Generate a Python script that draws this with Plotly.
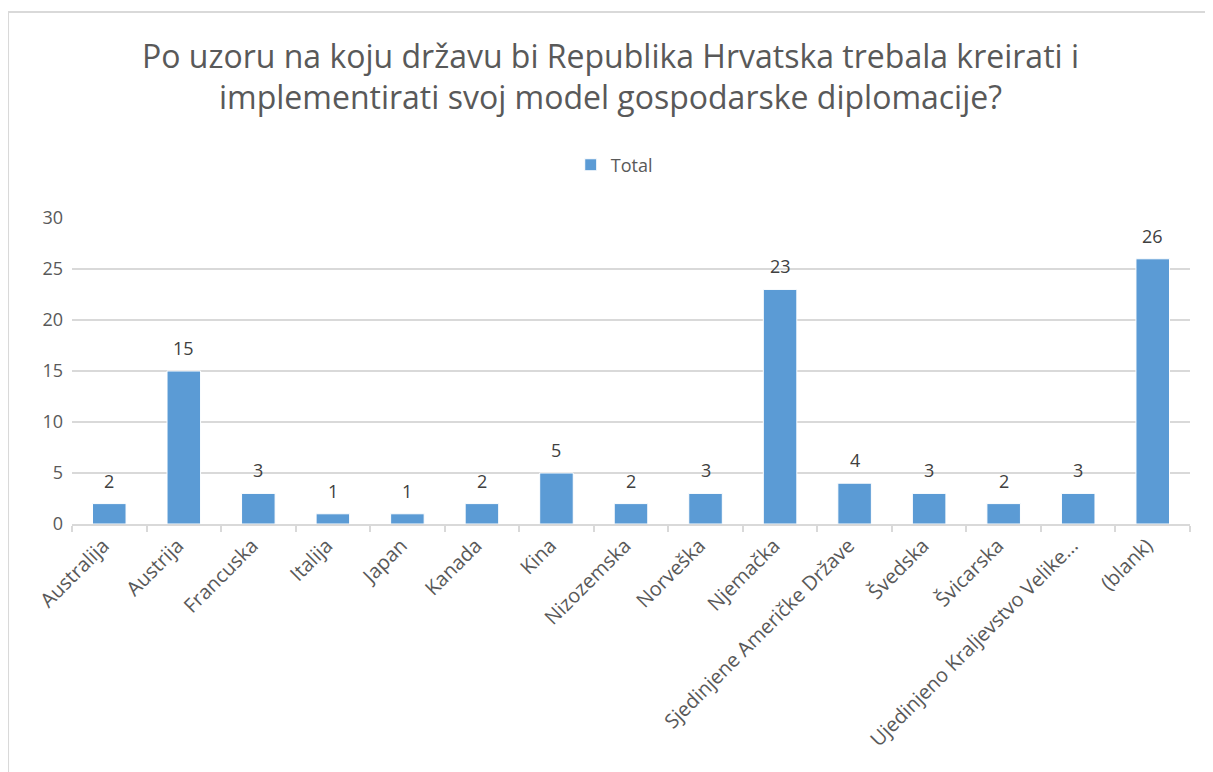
import plotly.graph_objects as go

categories = ["Australija", "Austrija", "Francuska", "Italija", "Japan", "Kanada", "Kina",
              "Nizozemska", "Norveška", "Njemačka", "Sjedinjene Američke Države", "Švedska",
              "Švicarska", "Ujedinjeno Kraljevstvo Velike...", "(blank)"]
totals = [2, 15, 3, 1, 1, 2, 5, 2, 3, 23, 4, 3, 2, 3, 26]
y_ticks = [0, 5, 10, 15, 20, 25, 30]

FONT = "Segoe UI, Open Sans, sans-serif"
GREY = "#595959"
LINE = "#d9d9d9"

fig = go.Figure()
fig.add_bar(x=categories, y=totals, name="Total", marker=dict(color="#5b9bd5", line=dict(color="white", width=1)))

# data labels above the bars
for c, v in zip(categories, totals):
    fig.add_annotation(x=c, y=v, text=str(v), showarrow=False, yanchor="bottom", yshift=9,
                       font=dict(size=18, color="#404040", family=FONT))

# page body has an 8px margin, so the figure is sized a bit smaller
fig.update_layout(
    width=1205, height=764,
    title=dict(text="Po uzoru na koju državu bi Republika Hrvatska trebala kreirati i<br>implementirati svoj model gospodarske diplomacije?",
               x=0.5, xanchor="center", y=0.922, yanchor="middle",
               font=dict(family=FONT, size=32, color=GREY)),
    showlegend=True,
    legend=dict(orientation="h", x=0.485, xanchor="center", y=1.173, yanchor="middle",
                font=dict(family=FONT, size=18, color=GREY)),
    margin=dict(l=64, r=23, t=210, b=248),
    plot_bgcolor="white", paper_bgcolor="white",
    bargap=0.55,
    font=dict(family=FONT, color=GREY),
)
fig.update_yaxes(range=[0, 30], tickvals=y_ticks, showgrid=True, gridcolor=LINE, gridwidth=1.5,
                 zeroline=False, showline=False, ticks="", ticklabelstandoff=8,
                 tickfont=dict(size=18, color=GREY, family=FONT))
fig.update_xaxes(showline=True, linecolor=LINE, linewidth=2, ticks="outside", tickson="boundaries",
                 tickcolor=LINE, ticklen=6, tickwidth=2, tickangle=-45, ticklabelshift=-6,
                 tickfont=dict(size=20, color=GREY, family=FONT))

# chart border (cropped on right and bottom)
fig.add_shape(type="line", xref="paper", yref="paper", x0=-0.0572, x1=-0.0572, y0=1.673, y1=-0.82,
              line=dict(color=LINE, width=2))
fig.add_shape(type="line", xref="paper", yref="paper", x0=-0.0572, x1=1.03, y0=1.673, y1=1.673,
              line=dict(color=LINE, width=2))

fig.write_html("out.html")
